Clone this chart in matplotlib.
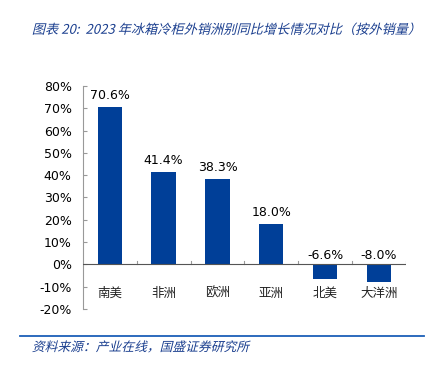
import matplotlib.pyplot as plt
from matplotlib.lines import Line2D
from matplotlib.patheffects import AbstractPathEffect
from matplotlib.transforms import Affine2D

plt.rcParams['font.family'] = ['Noto Sans CJK SC', 'DejaVu Sans']

regions = ['南美', '非洲', '欧洲', '亚洲', '北美', '大洋洲']
growth = [70.6, 41.4, 38.3, 18.0, -6.6, -8.0]
yticks = [-20, -10, 0, 10, 20, 30, 40, 50, 60, 70, 80]

bar_color = '#003f98'
title_color = '#1b3f8f'


class Slant(AbstractPathEffect):
    # 中文字体没有斜体，这里手动倾斜
    def draw_path(self, renderer, gc, tpath, affine, rgbFace=None):
        renderer.draw_path(gc, tpath, Affine2D().skew_deg(14, 0) + affine, rgbFace)


fig = plt.figure(figsize=(4.36, 3.69), dpi=100)
ax = fig.add_axes([0.19, 0.163, 0.741, 0.604])

x = list(range(len(regions)))
ax.bar(x, growth, width=0.45, color=bar_color, zorder=2)

# 数据标签
for i, v in enumerate(growth):
    y = v + 2.2 if v > 0 else 1.0
    ax.text(i, y, f'{v:.1f}%', ha='center', va='bottom', fontsize=9,
            family=['DejaVu Sans'])

ax.set_xlim(-0.5, len(regions) - 0.5)
ax.set_ylim(-20, 80)
ax.set_yticks(yticks)
ax.set_yticklabels([f'{t}%' for t in yticks], fontsize=9,
                   family=['DejaVu Sans'])
ax.tick_params(axis='y', direction='in', length=3, color='#999999', pad=8)

ax.set_xticks([])
for i, name in enumerate(regions):
    ax.text(i, -13, name, ha='center', va='center', fontsize=9, color='#222222')
for b in [i + 0.5 for i in range(len(regions))]:
    ax.plot([b, b], [0, 1.3], color='#999999', lw=0.8, zorder=1)

ax.axhline(0, color='#555555', lw=0.8, zorder=3)
for s in ['top', 'right', 'bottom']:
    ax.spines[s].set_visible(False)
ax.spines['left'].set_color('#999999')
ax.spines['left'].set_linewidth(0.8)

fig.text(0.073, 0.918, '图表 20:  2023 年冰箱冷柜外销洲别同比增长情况对比（按外销量）',
         fontsize=9.5, color=title_color, ha='left', va='center',
         path_effects=[Slant()])

fig.add_artist(Line2D([0.046, 0.973], [0.089, 0.089], color='#1b5fb8', lw=1.3))
fig.text(0.073, 0.058, '资料来源：产业在线，国盛证券研究所', fontsize=9.2,
         color=title_color, ha='left', va='center', path_effects=[Slant()])

fig.savefig('out.png', dpi=100)
